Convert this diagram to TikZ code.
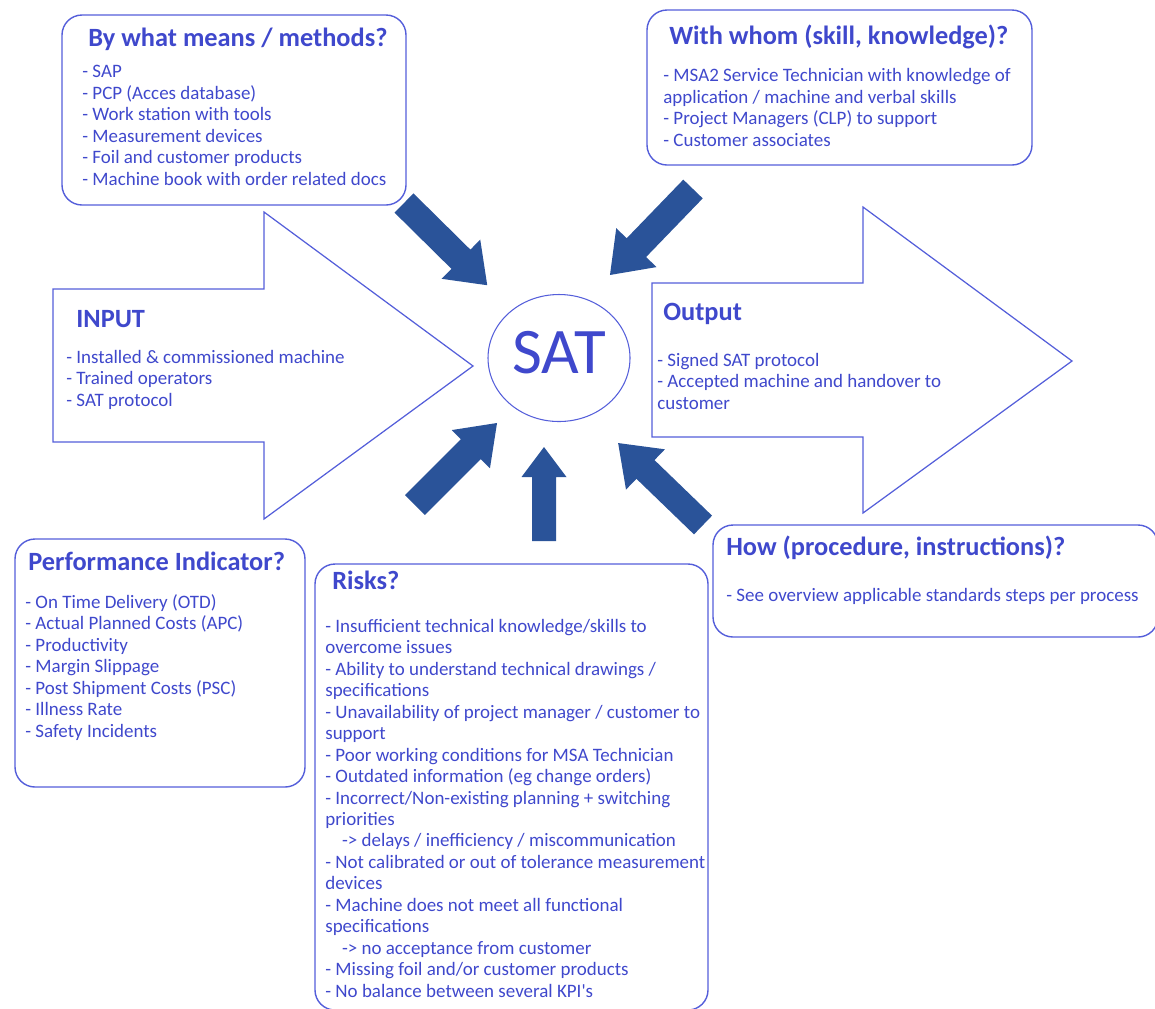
\documentclass[tikz,border=0pt]{standalone}
\usepackage{fontspec}
\setmainfont{Carlito}
\usepackage{xcolor}
\usetikzlibrary{positioning,fit,shapes.geometric}
\definecolor{ink}{RGB}{63,72,204}
\definecolor{rim}{RGB}{84,94,218}
\definecolor{navy}{RGB}{42,83,153}

% fat arrow: tail, angle, length, half shaft, half head, head length
\newcommand{\fatarrow}[6]{%
  \fill[navy,shift={#1},rotate=#2] (0,-#4) -- ({#3-#6},-#4) -- ({#3-#6},-#5) -- (#3,0)
    -- ({#3-#6},#5) -- ({#3-#6},#4) -- (0,#4) -- cycle;}

\begin{document}
\begin{tikzpicture}[
  x=0.2mm,y=-0.2mm,
  box/.style={draw=rim,line width=0.8pt,rounded corners=4mm,inner sep=0pt},
  ttl/.style={font=\fontsize{15}{18}\selectfont\bfseries,text=ink,inner sep=0pt,anchor=base west},
  lst/.style={font=\fontsize{10.8}{12.2}\selectfont,text=ink,align=left,inner sep=0pt,anchor=base west},
  big/.style={draw=rim,line width=0.7pt,fill=white}
]
\useasboundingbox (0,0) rectangle (1155,1008);

% big input / output arrows
\draw[big] (53,289) -- (264,289) -- (264,212) -- (473,366) -- (264,519) -- (264,442) -- (53,442) -- cycle;
\draw[big] (652,283) -- (863,283) -- (863,207) -- (1072,361) -- (863,513) -- (863,437) -- (652,437) -- cycle;

\node[ellipse,draw=rim,line width=0.6pt,minimum width=28.4mm,minimum height=25.4mm,inner sep=0pt,
  font=\fontsize{37}{40}\selectfont,text=ink,text depth=2.2mm] (sat) at (559,358) {SAT};

\node[box,fit={(62,15) (406,205)}] (means) {};
\node[box,fit={(647,10) (1032,165)}] (whom) {};
\node[box,fit={(15,539) (305,787)}] (kpi) {};
\node[box,fit={(315,564) (708,1010)}] (risks) {};
\node[box,fit={(713,525) (1158,637)}] (how) {};

\node[ttl] (meansT) at (88,46.5) {By what means / methods?};
\node[ttl] (whomT) at (669,44) {With whom (skill, knowledge)?};
\node[ttl] (inT) at (76,327) {INPUT};
\node[ttl] (outT) at (663,320) {Output};
\node[ttl] (kpiT) at (28,570) {Performance Indicator?};
\node[ttl] (risksT) at (332,589) {Risks?};
\node[ttl] (howT) at (726,555) {How (procedure, instructions)?};

% lists sit on the baseline of their last line
\node[lst] (meansL) at (82,185) {- SAP\\- PCP (Acces database)\\- Work station with tools\\- Measurement devices\\- Foil and customer products\\- Machine book with order related docs};
\node[lst] (whomL) at (663,146) {- MSA2 Service Technician with knowledge of\\application / machine and verbal skills\\- Project Managers (CLP) to support\\- Customer associates};
\node[lst] (inL) at (66,406) {- Installed \& commissioned machine\\- Trained operators\\- SAT protocol};
\node[lst] (outL) at (657,409) {- Signed SAT protocol\\- Accepted machine and handover to\\customer};
\node[lst] (kpiL) at (25,737) {- On Time Delivery (OTD)\\- Actual Planned Costs (APC)\\- Productivity\\- Margin Slippage\\- Post Shipment Costs (PSC)\\- Illness Rate\\- Safety Incidents};
\node[lst] (risksL) at (325,997) {- Insufficient technical knowledge/skills to\\overcome issues\\- Ability to understand technical drawings /\\specifications\\- Unavailability of project manager / customer to\\support\\- Poor working conditions for MSA Technician\\- Outdated information (eg change orders)\\- Incorrect/Non-existing planning + switching\\priorities\\\hspace*{9.5pt}-> delays / inefficiency / miscommunication\\- Not calibrated or out of tolerance measurement\\devices\\- Machine does not meet all functional\\specifications\\\hspace*{9.5pt}-> no acceptance from customer\\- Missing foil and/or customer products\\- No balance between several KPI\textquotesingle s};
\node[lst] (howL) at (726,601) {- See overview applicable standards steps per process};

% arrows into SAT
\fatarrow{(404,203)}{-44.65}{117}{13.5}{27.5}{37}
\fatarrow{(693,189)}{-134}{119.5}{13.5}{28}{38}
\fatarrow{(415,505)}{45}{116}{14}{27}{37}
\fatarrow{(544,541)}{90}{94}{12}{22.5}{30}
\fatarrow{(703,525)}{136}{118}{13}{28}{38}
\end{tikzpicture}
\end{document}
